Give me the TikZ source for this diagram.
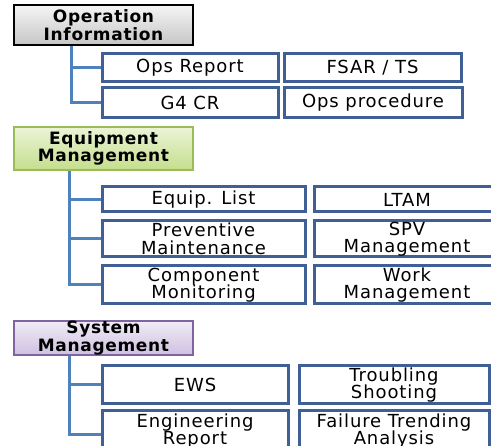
\documentclass[tikz,border=0pt]{standalone}
\usepackage{fontspec}
\setmainfont{DejaVu Sans}
\newfontfamily\itemfont{DejaVu Sans}[LetterSpace=5]
\newfontfamily\headfont{DejaVu Sans Bold}[LetterSpace=4]
\definecolor{boxblue}{HTML}{3F5F95}
\definecolor{linkblue}{HTML}{4F81BD}
\tikzset{
  itembox/.style={draw=boxblue, line width=3pt, fill=white, inner sep=0pt, align=center, font={\fontsize{18pt}{17.5pt}\itemfont}},
  headbox/.style={line width=2.6pt, inner sep=0pt, align=center, font={\fontsize{17pt}{17.5pt}\headfont}, minimum width=179pt},
  link/.style={draw=linkblue, line width=3pt}
}
\begin{document}
\begin{tikzpicture}[x=1pt,y=-1pt]
\useasboundingbox (0,0) rectangle (491,446);
\clip (0,0) rectangle (491,446);
% Section 1
\node[headbox, draw=black, top color=gray!8, bottom color=gray!45, minimum height=40pt] (h1) at (103.5,25) {Operation\\Information};
\node[itembox, minimum width=176pt, minimum height=28pt] (ops) at (190,68) {Ops Report};
\node[itembox, minimum width=177pt, minimum height=28pt] (fsar) at (372.5,68) {FSAR / TS};
\node[itembox, minimum width=176pt, minimum height=30pt] (g4) at (190,103) {G4 CR};
\node[itembox, minimum width=178pt, minimum height=30pt] (proc) at (373,103) {Ops procedure};
\coordinate (c1) at (71,46.2);
\draw[link] (c1) |- (ops.west);
\draw[link] (c1) |- (g4.west);
% Section 2
\node[headbox, draw={rgb,255:red,155;green,187;blue,89}, top color={rgb,255:red,236;green,244;blue,214}, bottom color={rgb,255:red,196;green,222;blue,140}, minimum height=43pt] (h2) at (103.5,148.5) {Equipment\\Management};
\node[itembox, minimum width=203pt, minimum height=25pt] (equip) at (203.5,199.5) {Equip. List};
\node[itembox, minimum width=186pt, minimum height=25pt] (ltam) at (407,199.5) {LTAM};
\node[itembox, minimum width=203pt, minimum height=36pt] (prev) at (203.5,239) {Preventive\\Maintenance};
\node[itembox, minimum width=186pt, minimum height=36pt] (spv) at (407,239) {SPV\\Management};
\node[itembox, minimum width=203pt, minimum height=38pt] (comp) at (203.5,285) {Component\\Monitoring};
\node[itembox, minimum width=186pt, minimum height=38pt] (work) at (407,285) {Work\\Management};
\coordinate (c2) at (69,171);
\draw[link] (c2) |- (equip.west);
\draw[link] (c2) |- (prev.west);
\draw[link] (c2) |- (comp.west);
% Section 3
\node[headbox, draw={rgb,255:red,128;green,100;blue,162}, top color={rgb,255:red,240;green,235;blue,246}, bottom color={rgb,255:red,206;green,193;blue,224}, minimum height=34pt] (h3) at (103.5,338) {System\\Management};
\node[itembox, minimum width=186pt, minimum height=38pt] (ews) at (195,385) {EWS};
\node[itembox, minimum width=190pt, minimum height=38pt] (trouble) at (394,385) {Troubling\\Shooting};
\node[itembox, minimum width=186pt, minimum height=40pt] (eng) at (195,431) {Engineering\\Report};
\node[itembox, minimum width=190pt, minimum height=40pt] (fail) at (394,431) {Failure Trending\\Analysis};
\coordinate (c3) at (69,356);
\draw[link] (c3) |- (ews.west);
\draw[link] (c3) |- ([yshift=-4pt]eng.west);
\end{tikzpicture}
\end{document}
